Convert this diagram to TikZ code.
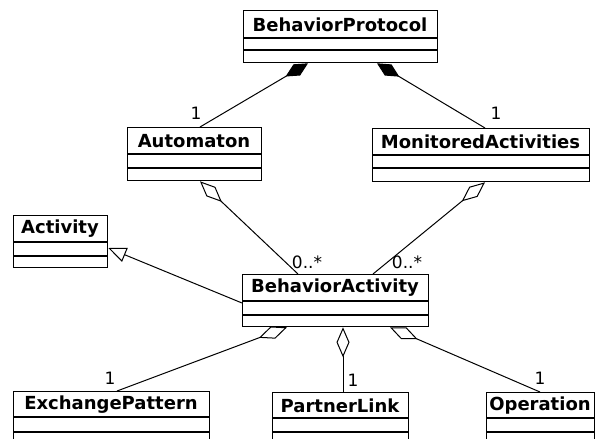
\documentclass[tikz,border=0pt]{standalone}
\usepackage{fontspec}
\setmainfont{DejaVu Sans}
\usetikzlibrary{arrows.meta,calc}
\newcommand\umlbox[9]{%
  \node[cls, minimum width={#4-#2}, minimum height={#5-#3}] (#1) at (#2,#3) {};
  \draw[divl] (#2,#6) -- (#4,#6);
  \draw[divl] (#2,#7) -- (#4,#7);
  \node[ttl] (#1-t) at ({(#2+#4)/2},{(#3+#6)/2+0.5}) {#9};
}
\begin{document}
\begin{tikzpicture}[x=1pt,y=-1pt,
  cls/.style={draw, line width=1.3pt, inner sep=0pt, anchor=north west},
  divl/.style={line width=1.3pt},
  ttl/.style={font=\fontsize{18}{21}\selectfont\bfseries, inner sep=0pt},
  mult/.style={font=\fontsize{17}{20}\selectfont, inner sep=0pt},
  conn/.style={line width=1pt},
  comp/.style={conn, {Diamond[length=26pt,width=13pt]}-},
  aggr/.style={conn, {Diamond[open,length=30pt,width=13pt]}-},
  gen/.style={conn, -{Triangle[open,length=18pt,width=15pt]}}]
\useasboundingbox (0,0) rectangle (597,439);
\fill[white] (0,0) rectangle (597,439);
\clip (0,0) rectangle (597,439);

\umlbox{bp}{243}{10}{437}{62}{38}{50}{}{BehaviorProtocol}
\umlbox{auto}{127}{127}{261}{180}{154}{168}{}{Automaton}
\umlbox{ma}{372}{128}{589}{181}{155}{168}{}{MonitoredActivities}
\umlbox{act}{13}{215}{107}{267}{242}{256}{}{Activity}
\umlbox{ba}{242}{274}{428}{326}{301}{315}{}{BehaviorActivity}
\umlbox{ep}{13}{391}{209}{460}{417}{432}{}{ExchangePattern}
\umlbox{pl}{272}{392}{408}{460}{418}{432}{}{PartnerLink}
\umlbox{op}{486}{392}{594}{460}{418}{432}{}{Operation}

\draw[comp] ($(bp.south west)+(65,0)$) -- ($(auto.north west)+(73,0)$);
\draw[comp] ($(bp.south west)+(134,0)$) -- ($(ma.north west)+(113,0)$);
\draw[aggr] ($(auto.south west)+(73,0)$) -- ($(ba.north west)+(56,0)$);
\draw[aggr] ($(ma.south west)+(113,0)$) -- ($(ba.north west)+(131,0)$);
\draw[gen] ($(ba.north west)+(0,29)$) -- ($(act.north east)+(0,33)$);
\draw[aggr] ($(ba.south west)+(45,0)$) -- ($(ep.north west)+(104,0)$);
\draw[aggr] ($(ba.south west)+(101,0)$) -- ($(pl.north west)+(71,0)$);
\draw[aggr] ($(ba.south west)+(148,0)$) -- ($(op.north west)+(54,0)$);

\node[mult] (m1) at (196,113) {1};
\node[mult] (m2) at (496,113) {1};
\node[mult] (m3) at (307,262) {0..*};
\node[mult] (m4) at (407,262) {0..*};
\node[mult] (m5) at (110,378) {1};
\node[mult] (m6) at (353,380) {1};
\node[mult] (m7) at (540,378) {1};
\end{tikzpicture}
\end{document}
